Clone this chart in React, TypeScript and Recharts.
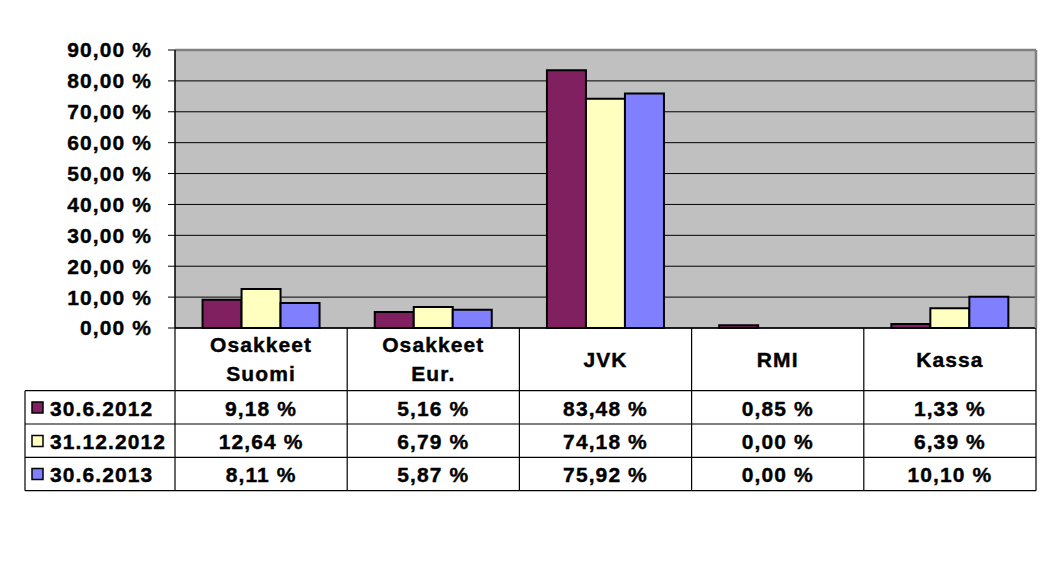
import React from "react";
import {
  BarChart,
  Bar,
  XAxis,
  YAxis,
  CartesianGrid,
  ReferenceLine,
} from "recharts";

// categories and series
const CATEGORIES = ["Osakkeet Suomi", "Osakkeet Eur.", "JVK", "RMI", "Kassa"];
const SERIES_NAMES = ["30.6.2012", "31.12.2012", "30.6.2013"];
const JUN_2012 = [9.18, 5.16, 83.48, 0.85, 1.33];
const DEC_2012 = [12.64, 6.79, 74.18, 0.0, 6.39];
const JUN_2013 = [8.11, 5.87, 75.92, 0.0, 10.1];
const Y_TICKS = [0, 10, 20, 30, 40, 50, 60, 70, 80, 90];

const COLORS = ["#802060", "#FFFFC0", "#8080FF"];
const SERIES = [JUN_2012, DEC_2012, JUN_2013];

const W = 1040;
const H = 500;
const M = { top: 42, right: 11, left: 0, bottom: 17 };
const Y_AXIS_W = 167;
const X_AXIS_H = 163;
const PLOT_RIGHT = W - M.right - 1;
const PLOT_W = PLOT_RIGHT - (M.left + Y_AXIS_W);
const PLOT_BOTTOM = H - M.bottom - X_AXIS_H;
const BAND = PLOT_W / CATEGORIES.length;

// table row geometry, offsets below the x axis line
const ROW_LINES = [62.7, 96, 129.3, 162.7];
const ROW_CENTERS = [80, 113.5, 146.5];
const LEGEND_LEFT = 17;

const FONT = "'Liberation Sans', Arial, sans-serif";
const textStyle = {
  fontFamily: FONT,
  fontWeight: 700,
  fontSize: 21,
  letterSpacing: 1.1,
  fill: "#000",
  stroke: "#000",
  strokeWidth: 0.4,
} as const;

const fmt = (v: number) => v.toFixed(2).replace(".", ",") + " %";

const data = CATEGORIES.map((name, i) => ({
  name,
  s0: JUN_2012[i],
  s1: DEC_2012[i],
  s2: JUN_2013[i],
}));

function TableTick(props: any) {
  const { x, payload } = props;
  const idx = CATEGORIES.indexOf(payload.value);
  const top = PLOT_BOTTOM;
  const left = x - BAND / 2;
  const right = x + BAND / 2;
  const words = String(payload.value).split(" ");
  const headerY = words.length > 1 ? [16.7, 45.5] : [31.5];

  return (
    <g>
      {idx === 0 && (
        <g>
          <line x1={left} y1={top} x2={left} y2={top + ROW_LINES[3]} stroke="#000" strokeWidth={1.2} />
          <line x1={LEGEND_LEFT} y1={top + ROW_LINES[0]} x2={LEGEND_LEFT} y2={top + ROW_LINES[3]} stroke="#000" strokeWidth={1.2} />
          {ROW_LINES.map((ly) => (
            <line key={ly} x1={LEGEND_LEFT} y1={top + ly} x2={left} y2={top + ly} stroke="#000" strokeWidth={1.2} />
          ))}
          {SERIES_NAMES.map((s, r) => (
            <g key={s}>
              <rect
                x={LEGEND_LEFT + 7}
                y={top + ROW_CENTERS[r] - 6}
                width={11}
                height={11}
                fill={COLORS[r]}
                stroke="#000"
                strokeWidth={1.5}
              />
              <text x={LEGEND_LEFT + 25} y={top + ROW_CENTERS[r]} dominantBaseline="central" {...textStyle}>
                {s}
              </text>
            </g>
          ))}
        </g>
      )}
      <line x1={right} y1={top} x2={right} y2={top + ROW_LINES[3]} stroke="#000" strokeWidth={1.2} />
      {ROW_LINES.map((ly) => (
        <line key={ly} x1={left} y1={top + ly} x2={right} y2={top + ly} stroke="#000" strokeWidth={1.2} />
      ))}
      {words.map((w, k) => (
        <text key={w} x={x} y={top + headerY[k]} textAnchor="middle" dominantBaseline="central" {...textStyle}>
          {w}
        </text>
      ))}
      {SERIES.map((vals, r) => (
        <text key={r} x={x} y={top + ROW_CENTERS[r]} textAnchor="middle" dominantBaseline="central" {...textStyle}>
          {fmt(vals[idx])}
        </text>
      ))}
    </g>
  );
}

export default function App() {
  return (
    <div style={{ width: W, height: H, background: "#fff" }}>
      <BarChart
        width={W}
        height={H}
        data={data}
        margin={M}
        barCategoryGap="16%"
        barGap={0}
      >
        <CartesianGrid
          vertical={false}
          stroke="#000"
          strokeWidth={1}
          fill="#C0C0C0"
          fillOpacity={1}
        />
        <XAxis
          dataKey="name"
          height={X_AXIS_H}
          interval={0}
          tickLine={false}
          tickSize={0}
          tickMargin={0}
          axisLine={{ stroke: "#000", strokeWidth: 1.5 }}
          tick={<TableTick />}
        />
        <YAxis
          width={Y_AXIS_W}
          domain={[0, 90]}
          ticks={Y_TICKS}
          interval={0}
          tickFormatter={fmt}
          tickSize={7}
          tickMargin={16}
          tickLine={{ stroke: "#000" }}
          axisLine={{ stroke: "#000", strokeWidth: 1.5 }}
          tick={textStyle}
        />
        <YAxis
          yAxisId="border"
          orientation="right"
          width={1}
          tick={false}
          tickLine={false}
          axisLine={{ stroke: "#808080", strokeWidth: 2.5 }}
        />
        <ReferenceLine y={90} stroke="#808080" strokeWidth={2.5} />
        {SERIES_NAMES.map((s, i) => (
          <Bar
            key={s}
            dataKey={`s${i}`}
            name={s}
            fill={COLORS[i]}
            stroke="#000"
            strokeWidth={2}
            isAnimationActive={false}
          />
        ))}
      </BarChart>
    </div>
  );
}
